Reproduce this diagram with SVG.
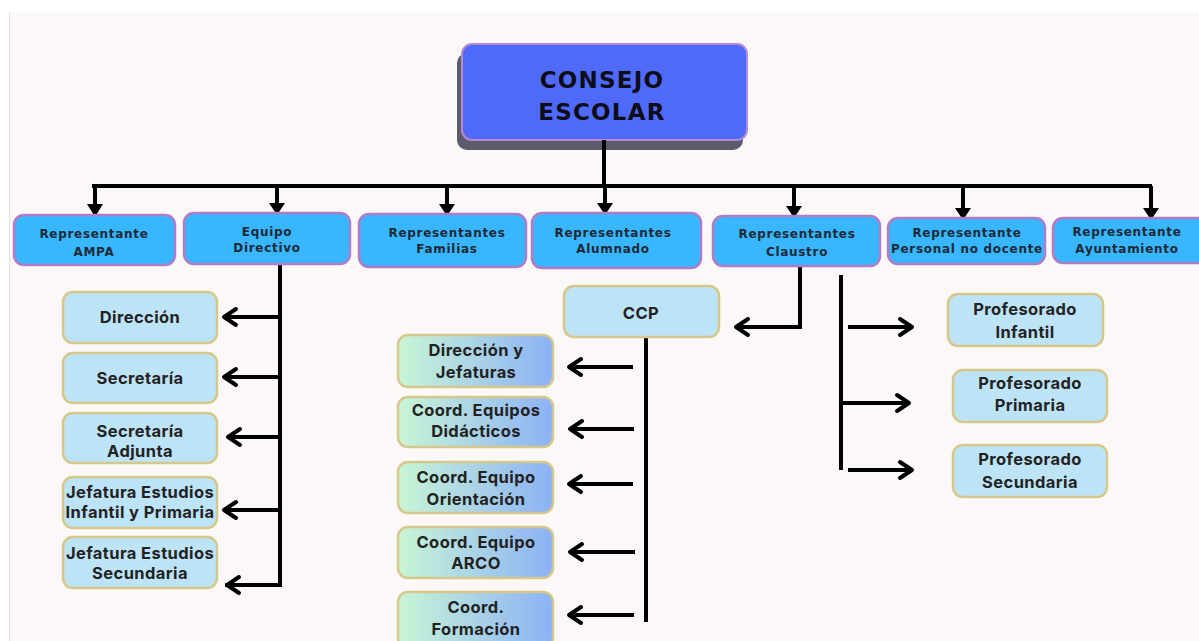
<svg xmlns="http://www.w3.org/2000/svg" width="1199" height="641" viewBox="0 0 1199 641">
<defs>
<linearGradient id="gr" x1="0" y1="0" x2="1" y2="0">
<stop offset="0" stop-color="#c8f5d6"/>
<stop offset="1" stop-color="#8cb1f6"/>
</linearGradient>
<style>
.top rect{fill:#38b6ff;stroke:#b07cc6;stroke-width:2.5}
.top text{font-family:"DejaVu Sans","Liberation Sans",sans-serif;font-weight:bold;font-size:12px;fill:#1e2a36;text-anchor:middle;dominant-baseline:central;letter-spacing:0.7px}
.sub rect{fill:#bde3f7;stroke:#d6c88a;stroke-width:2.5}
.grd rect{fill:url(#gr);stroke:#d6c88a;stroke-width:2.5}
.sub text,.grd text{font-family:Inter,"Liberation Sans",sans-serif;font-weight:bold;font-size:16.5px;fill:#222;text-anchor:middle;dominant-baseline:central;letter-spacing:0.4px}
.ln{stroke:#000;stroke-width:4;fill:none}
.ch{stroke:#000;stroke-width:4;fill:none;stroke-linecap:round;stroke-linejoin:round}
.tri{fill:#000}
</style>
</defs>
<rect x="0" y="0" width="1199" height="641" fill="#ffffff"/>
<rect x="9" y="12" width="1190" height="629" fill="#fcf8f7"/>
<line x1="9.5" y1="12" x2="9.5" y2="641" stroke="#e2e2e2" stroke-width="1"/>

<g id="consejo">
<rect x="457" y="53" width="286" height="97" rx="10" fill="#5b5b6b"/>
<rect x="462" y="44" width="285" height="96" rx="10" fill="#4f6af9" stroke="#b689d4" stroke-width="2"/>
<text x="602" y="80" font-family="DejaVu Sans,Liberation Sans,sans-serif" font-weight="bold" font-size="23" fill="#0d0d1a" text-anchor="middle" dominant-baseline="central" letter-spacing="1.2">CONSEJO</text>
<text x="602" y="112" font-family="DejaVu Sans,Liberation Sans,sans-serif" font-weight="bold" font-size="23" fill="#0d0d1a" text-anchor="middle" dominant-baseline="central" letter-spacing="1.2">ESCOLAR</text>
</g>

<g id="connectors">
<line class="ln" x1="604" y1="140" x2="604" y2="186"/>
<line class="ln" x1="92" y1="186" x2="1152" y2="186"/>
<line class="ln" x1="95" y1="186" x2="95" y2="206"/>
<line class="ln" x1="277" y1="186" x2="277" y2="206"/>
<line class="ln" x1="447" y1="186" x2="447" y2="206"/>
<line class="ln" x1="605" y1="186" x2="605" y2="206"/>
<line class="ln" x1="794" y1="186" x2="794" y2="208"/>
<line class="ln" x1="963" y1="186" x2="963" y2="210"/>
<line class="ln" x1="1151" y1="186" x2="1151" y2="210"/>
<polygon class="tri" points="87,204 103,204 95,217"/>
<polygon class="tri" points="269,203 285,203 277,215"/>
<polygon class="tri" points="439,204 455,204 447,216"/>
<polygon class="tri" points="597,203 613,203 605,215"/>
<polygon class="tri" points="786,206 802,206 794,218"/>
<polygon class="tri" points="955,208 971,208 963,220"/>
<polygon class="tri" points="1143,208 1159,208 1151,220"/>

<!-- Equipo Directivo -->
<polyline class="ln" points="280,264 280,585 225,585"/>
<line class="ln" x1="280" y1="317" x2="224" y2="317"/>
<line class="ln" x1="280" y1="377" x2="224" y2="377"/>
<line class="ln" x1="280" y1="437" x2="228" y2="437"/>
<line class="ln" x1="280" y1="510" x2="224" y2="510"/>
<polyline class="ch" points="236,309 224,317 236,325"/>
<polyline class="ch" points="236,369 224,377 236,385"/>
<polyline class="ch" points="240,429 228,437 240,445"/>
<polyline class="ch" points="236,502 224,510 236,518"/>
<polyline class="ch" points="239,577 227,585 239,593"/>

<!-- Claustro to CCP -->
<polyline class="ln" points="800,266 800,327 736,327"/>
<polyline class="ch" points="748,319 736,327 748,335"/>

<!-- Claustro to Profesorado -->
<line class="ln" x1="841" y1="275" x2="841" y2="470"/>
<line class="ln" x1="848" y1="327" x2="912" y2="327"/>
<line class="ln" x1="843" y1="403" x2="909" y2="403"/>
<line class="ln" x1="848" y1="470" x2="912" y2="470"/>
<polyline class="ch" points="900,319 912,327 900,335"/>
<polyline class="ch" points="897,395 909,403 897,411"/>
<polyline class="ch" points="900,462 912,470 900,478"/>

<!-- CCP -->
<line class="ln" x1="646" y1="335" x2="646" y2="622"/>
<line class="ln" x1="633" y1="367" x2="569" y2="367"/>
<line class="ln" x1="634" y1="429" x2="570" y2="429"/>
<line class="ln" x1="633" y1="484" x2="569" y2="484"/>
<line class="ln" x1="635" y1="552" x2="570" y2="552"/>
<line class="ln" x1="634" y1="615" x2="569" y2="615"/>
<polyline class="ch" points="581,359 569,367 581,375"/>
<polyline class="ch" points="582,421 570,429 582,437"/>
<polyline class="ch" points="581,476 569,484 581,492"/>
<polyline class="ch" points="582,544 570,552 582,560"/>
<polyline class="ch" points="581,607 569,615 581,623"/>
</g>

<g id="ampa" class="top"><rect x="14" y="215" width="161" height="50" rx="10"/><text x="94" y="234">Representante</text><text x="94" y="252">AMPA</text></g>
<g id="equipo" class="top"><rect x="184" y="213" width="166" height="51" rx="10"/><text x="267" y="232">Equipo</text><text x="267" y="248">Directivo</text></g>
<g id="familias" class="top"><rect x="359" y="214" width="167" height="53" rx="10"/><text x="447" y="233">Representantes</text><text x="447" y="249">Familias</text></g>
<g id="alumnado" class="top"><rect x="532" y="213" width="169" height="55" rx="10"/><text x="613" y="233">Representantes</text><text x="613" y="249">Alumnado</text></g>
<g id="claustro" class="top"><rect x="713" y="216" width="167" height="50" rx="10"/><text x="797" y="234">Representantes</text><text x="797" y="252">Claustro</text></g>
<g id="personal" class="top"><rect x="888" y="218" width="157" height="46" rx="10"/><text x="967" y="233" letter-spacing="0.3">Representante</text><text x="967" y="249" letter-spacing="0.3">Personal no docente</text></g>
<g id="ayuntamiento" class="top"><rect x="1053" y="218" width="160" height="45" rx="10"/><text x="1127" y="232">Representante</text><text x="1127" y="249">Ayuntamiento</text></g>

<g id="direccion" class="sub"><rect x="63" y="292" width="154" height="51" rx="10"/><text x="140" y="317">Dirección</text></g>
<g id="secretaria" class="sub"><rect x="63" y="353" width="154" height="50" rx="10"/><text x="140" y="378">Secretaría</text></g>
<g id="secretaria-adjunta" class="sub"><rect x="63" y="413" width="154" height="50" rx="10"/><text x="140" y="431">Secretaría</text><text x="140" y="451">Adjunta</text></g>
<g id="jefatura-ip" class="sub"><rect x="63" y="477" width="154" height="51" rx="10"/><text x="140" y="492" letter-spacing="0.2">Jefatura Estudios</text><text x="140" y="512" letter-spacing="0.2">Infantil y Primaria</text></g>
<g id="jefatura-sec" class="sub"><rect x="63" y="537" width="154" height="51" rx="10"/><text x="140" y="553" letter-spacing="0.2">Jefatura Estudios</text><text x="140" y="573">Secundaria</text></g>

<g id="ccp" class="sub"><rect x="564" y="286" width="155" height="51" rx="10"/><text x="641" y="313">CCP</text></g>

<g id="dir-jef" class="grd"><rect x="398" y="335" width="155" height="52" rx="10"/><text x="476" y="350">Dirección y</text><text x="476" y="372">Jefaturas</text></g>
<g id="coord-did" class="grd"><rect x="398" y="397" width="155" height="50" rx="10"/><text x="476" y="410" letter-spacing="0.2">Coord. Equipos</text><text x="476" y="431">Didácticos</text></g>
<g id="coord-ori" class="grd"><rect x="398" y="462" width="155" height="51" rx="10"/><text x="476" y="477">Coord. Equipo</text><text x="476" y="499">Orientación</text></g>
<g id="coord-arco" class="grd"><rect x="398" y="527" width="155" height="51" rx="10"/><text x="476" y="542">Coord. Equipo</text><text x="476" y="563">ARCO</text></g>
<g id="coord-form" class="grd"><rect x="398" y="592" width="155" height="56" rx="10"/><text x="476" y="607">Coord.</text><text x="476" y="629">Formación</text></g>

<g id="prof-inf" class="sub"><rect x="948" y="294" width="155" height="52" rx="10"/><text x="1025" y="309">Profesorado</text><text x="1025" y="332">Infantil</text></g>
<g id="prof-pri" class="sub"><rect x="953" y="370" width="154" height="52" rx="10"/><text x="1030" y="383">Profesorado</text><text x="1030" y="405">Primaria</text></g>
<g id="prof-sec" class="sub"><rect x="953" y="445" width="154" height="52" rx="10"/><text x="1030" y="459">Profesorado</text><text x="1030" y="482">Secundaria</text></g>
</svg>
